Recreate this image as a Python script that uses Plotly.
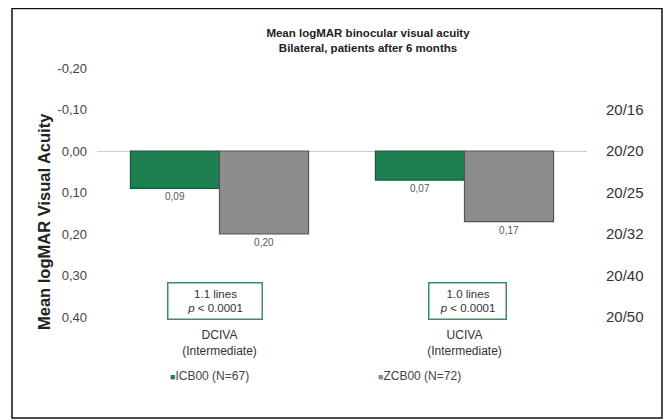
import plotly.graph_objects as go

categories = ["DCIVA<br>(Intermediate)", "UCIVA<br>(Intermediate)"]
icb_values = [0.09, 0.07]
zcb_values = [0.20, 0.17]
icb_labels = ["0,09", "0,07"]
zcb_labels = ["0,20", "0,17"]
left_ticks = [-0.20, -0.10, 0.00, 0.10, 0.20, 0.30, 0.40]
left_ticktext = ["-0,20", "-0,10", "0,00", "0,10", "0,20", "0,30", "0,40"]
right_ticks = [-0.10, 0.00, 0.10, 0.20, 0.30, 0.40]
right_ticktext = ["20/16", "20/20", "20/25", "20/32", "20/40", "20/50"]
box_texts = ["1.1 lines<br><i>p</i> < 0.0001", "1.0 lines<br><i>p</i> < 0.0001"]
series_names = ["ICB00 (N=67)", "ZCB00 (N=72)"]

GREEN = "#1e7f50"
GREEN_DARK = "#15573a"
GREY = "#8d8d8d"
GREY_DARK = "#555555"
FONT = "Liberation Sans, Arial, sans-serif"

yr = [0.4193, -0.2193]

# page is offset by 8px body margin; figure is 664x412
W, H = 664, 412
OFF = 8
PL, PR, PT, PB = 97, 587, 60, 325  # plot area in page pixels


def px(xp):
    return (xp - PL) / (PR - PL)


def py(yp):
    return (PB - yp) / (PB - PT)


fig = go.Figure()
fig.add_trace(go.Bar(x=categories, y=icb_values, name=series_names[0],
                     marker=dict(color=GREEN, line=dict(color=GREEN_DARK, width=1.2)),
                     text=icb_labels, textposition="outside",
                     textfont=dict(size=10, color="#555"), cliponaxis=False))
fig.add_trace(go.Bar(x=categories, y=zcb_values, name=series_names[1],
                     marker=dict(color=GREY, line=dict(color=GREY_DARK, width=1.2)),
                     text=zcb_labels, textposition="outside",
                     textfont=dict(size=10, color="#555"), cliponaxis=False))
fig.add_trace(go.Scatter(x=categories, y=[None, None], yaxis="y2", showlegend=False,
                         hoverinfo="skip"))

fig.update_layout(
    width=W, height=H,
    margin=dict(l=PL - OFF, r=W - (PR - OFF), t=PT - OFF, b=H - (PB - OFF)),
    paper_bgcolor="white", plot_bgcolor="white",
    barmode="group", bargap=0.273, bargroupgap=0,
    showlegend=False,
    font=dict(family=FONT, color="#333"),
    title=dict(text="<b>Mean logMAR binocular visual acuity<br>Bilateral, patients after 6 months</b>",
               x=(368 - OFF) / W, xref="container", xanchor="center",
               y=1 - (37 - OFF) / H, yanchor="top",
               font=dict(size=11.5, color="#222")),
    xaxis=dict(showline=False, ticks="", tickfont=dict(size=12, color="#333"),
               ticklabelstandoff=1),
    yaxis=dict(range=yr, tickvals=left_ticks, ticktext=left_ticktext,
               tickfont=dict(size=13, color="#444"), showgrid=False,
               zeroline=True, zerolinecolor="#cccccc", zerolinewidth=1,
               showline=False, ticks="", ticklabelstandoff=9),
    yaxis2=dict(range=yr, overlaying="y", side="right", tickvals=right_ticks,
                ticktext=right_ticktext, tickfont=dict(size=15, color="#333"),
                showgrid=False, zeroline=False, showline=False, ticks="",
                ticklabelstandoff=18),
)

# outer frame
fig.add_shape(type="rect", xref="paper", yref="paper",
              x0=px(12), x1=px(662), y0=py(418), y1=py(8.5),
              line=dict(color="#111", width=1.5))

# y axis title
fig.add_annotation(text="<b>Mean logMAR Visual Acuity</b>", textangle=-90,
                   xref="paper", yref="paper", x=px(44), y=py(222),
                   xanchor="center", yanchor="middle",
                   showarrow=False, font=dict(size=16.5, color="#222"))

# significance boxes
box_widths = [85, 68]
box_shift = [-5, 2.5]
for cat, txt, bw, sh in zip(categories, box_texts, box_widths, box_shift):
    fig.add_annotation(x=cat, y=0.361, xref="x", yref="y", text=txt, showarrow=False,
                       font=dict(size=11.5, color="#333"), align="center",
                       width=bw, xshift=sh,
                       bordercolor="#3d8f5f", borderwidth=1.5, borderpad=4,
                       bgcolor="white")

# legend as annotations
legend_x = [168, 376]
colors = [GREEN, GREY]
for name, lx, col in zip(series_names, legend_x, colors):
    fig.add_annotation(text=f"<span style='color:{col};font-size:9px'>■</span>{name}",
                       xref="paper", yref="paper", x=px(lx), y=py(376),
                       xanchor="left", yanchor="middle", showarrow=False,
                       font=dict(size=12, color="#444"))

fig.write_html("out.html")
